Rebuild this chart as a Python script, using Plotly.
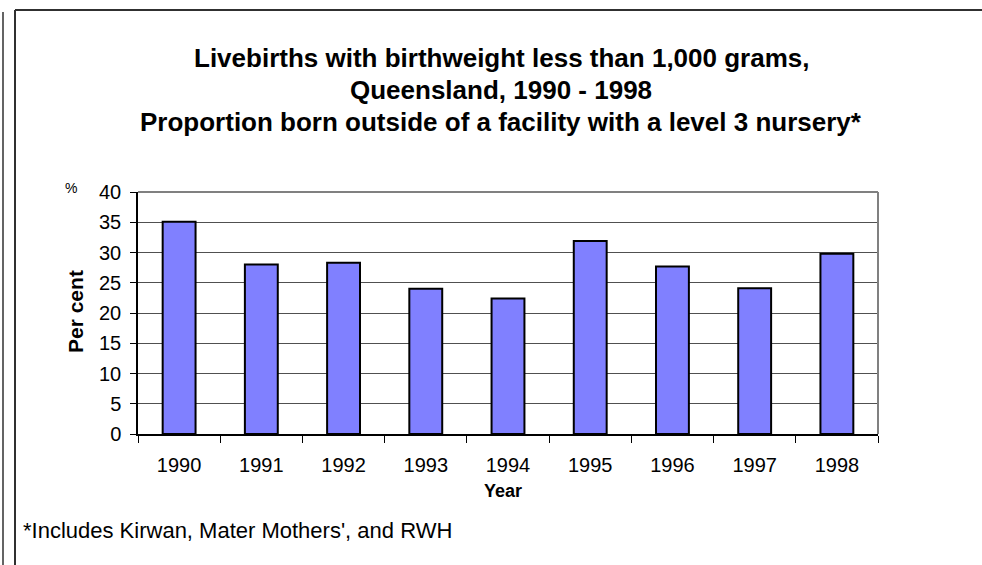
import plotly.graph_objects as go

years = ["1990", "1991", "1992", "1993", "1994", "1995", "1996", "1997", "1998"]
percent = [35.1, 28.0, 28.3, 24.0, 22.4, 31.9, 27.7, 24.1, 29.8]
y_ticks = [0, 5, 10, 15, 20, 25, 30, 35, 40]
title_lines = [
    "Livebirths with birthweight less than 1,000 grams,",
    "Queensland, 1990 - 1998",
    "Proportion born outside of a facility with a level 3 nursery*",
]

W, H = 982, 565
L, R, T, B = 138, 878, 192, 434

def px(x):
    return (x - L) / (R - L)

def py(y):
    return (B - y) / (B - T)

fig = go.Figure(go.Bar(
    x=years, y=percent, width=0.4,
    marker=dict(color="#8080FF", line=dict(color="black", width=2)),
))

font = "Liberation Sans, Arial, sans-serif"
annotations = [
    dict(text="<b>%s</b>" % t, xref="paper", yref="paper", x=px(501), y=py(58 + 32 * i),
         xanchor="center", yanchor="middle", showarrow=False, font=dict(size=26))
    for i, t in enumerate(title_lines)
]
annotations += [
    dict(text="%", xref="paper", yref="paper", x=px(71), y=py(188), xanchor="center", yanchor="middle",
         showarrow=False, font=dict(size=14)),
    dict(text="<b>Per cent</b>", xref="paper", yref="paper", x=px(75), y=py(312), xanchor="center", yanchor="middle",
         showarrow=False, font=dict(size=21), textangle=-90),
    dict(text="<b>Year</b>", xref="paper", yref="paper", x=px(503), y=py(491), xanchor="center", yanchor="middle",
         showarrow=False, font=dict(size=18)),
    dict(text="*Includes Kirwan, Mater Mothers', and RWH", xref="paper", yref="paper",
         x=px(21), y=py(530), xanchor="left", yanchor="middle", showarrow=False, font=dict(size=22)),
]

fig.update_layout(
    width=W, height=H,
    margin=dict(l=L, r=W - R, t=T, b=H - B, pad=0),
    paper_bgcolor="white", plot_bgcolor="white",
    font=dict(family=font, size=20, color="black"),
    showlegend=False,
    xaxis=dict(
        type="category", showgrid=False, showline=True, linecolor="black", linewidth=1.5,
        ticks="outside", tickson="boundaries", ticklen=7, tickcolor="black",
        tickfont=dict(size=20), range=[-0.5, 8.5], ticklabelstandoff=12,
    ),
    yaxis=dict(
        range=[0, 40], tickvals=y_ticks, showgrid=True, gridcolor="#505050", gridwidth=1,
        showline=True, linecolor="black", linewidth=1.5, ticks="outside", ticklen=6,
        tickcolor="black", tickfont=dict(size=20), zeroline=False, ticklabelstandoff=5,
    ),
    annotations=annotations,
    shapes=[
        dict(type="line", xref="paper", yref="paper", x0=0, x1=1, y0=1, y1=1, line=dict(color="#808080", width=2)),
        dict(type="line", xref="paper", yref="paper", x0=1, x1=1, y0=0, y1=1, line=dict(color="#808080", width=2)),
        dict(type="line", xref="paper", yref="paper", x0=px(15), x1=px(990), y0=py(10), y1=py(10), line=dict(color="#303030", width=2)),
        dict(type="line", xref="paper", yref="paper", x0=px(15), x1=px(15), y0=py(10), y1=py(575), line=dict(color="#303030", width=2)),
        dict(type="line", xref="paper", yref="paper", x0=px(3), x1=px(3), y0=py(12), y1=py(575), line=dict(color="#303030", width=1.5)),
    ],
)

fig.write_html("out.html", config={"displayModeBar": False},
               post_script="document.body.style.margin='0';document.body.style.overflow='hidden';")
